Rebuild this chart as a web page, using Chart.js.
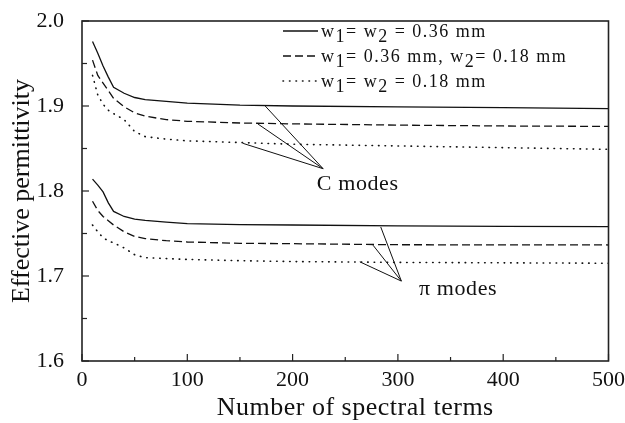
<!DOCTYPE html>
<html>
<head>
<meta charset="utf-8">
<script src="https://cdn.jsdelivr.net/npm/chart.js@4"></script>
<style>
  html, body { margin: 0; padding: 0; background: #fff; }
  #wrap { width: 625px; height: 423px; position: relative; }
</style>
</head>
<body>
<div id="wrap"><canvas id="c"></canvas></div>
<script>
// ---- data ----
const terms = [10, 15, 20, 25, 30, 40, 50, 60, 80, 100, 150, 200, 300, 400, 500];

const cSolid  = [1.976, 1.962, 1.947, 1.934, 1.922, 1.915, 1.910, 1.9075, 1.9055, 1.9035, 1.901, 1.900, 1.899, 1.898, 1.897];
const cDashed = [1.954, 1.936, 1.927, 1.918, 1.909, 1.899, 1.892, 1.888, 1.884, 1.882, 1.880, 1.879, 1.8775, 1.8765, 1.876];
const cDotted = [1.936, 1.913, 1.902, 1.895, 1.891, 1.884, 1.870, 1.864, 1.861, 1.859, 1.857, 1.855, 1.853, 1.851, 1.849];

const piSolid  = [1.814, 1.807, 1.799, 1.786, 1.776, 1.770, 1.767, 1.7655, 1.7635, 1.7615, 1.7605, 1.760, 1.759, 1.7585, 1.758];
const piDashed = [1.788, 1.777, 1.770, 1.765, 1.760, 1.752, 1.7465, 1.744, 1.7415, 1.740, 1.7385, 1.738, 1.7368, 1.7366, 1.7365];
const piDotted = [1.760, 1.752, 1.745, 1.7413, 1.739, 1.733, 1.725, 1.7215, 1.7205, 1.7195, 1.718, 1.717, 1.716, 1.7155, 1.715];

const legendLabels = ['w_1= w_2 = 0.36 mm', 'w_1= 0.36 mm, w_2= 0.18 mm', 'w_1= w_2 = 0.18 mm'];

const xTicks = [0, 100, 200, 300, 400, 500];
const yTicks = [1.6, 1.7, 1.8, 1.9, 2.0];
const xTitle = 'Number of spectral terms';
const yTitle = 'Effective permittivity';

// annotation pointers (data units): apex and line start points
const cModesLabel = 'C modes';
const cModesApex = [229, 1.8262];
const cModesStarts = [[173.6, 1.9005], [167, 1.8789], [153, 1.856]];
const cModesText = [223, 1.8007];

const piModesLabel = 'π modes';
const piModesApex = [303.3, 1.694];
const piModesStarts = [[283.7, 1.7577], [276.4, 1.7362], [263.8, 1.7167]];
const piModesText = [320, 1.6776];

// ---- styles ----
const FONT = "'Liberation Serif', 'Times New Roman', serif";
const INK = '#111';
const styleSolid = { borderDash: [], borderCapStyle: 'butt', borderWidth: 1.3 };
const styleDashed = { borderDash: [8, 4], borderCapStyle: 'butt', borderWidth: 1.3 };
const styleDotted = { borderDash: [0.5, 6], borderCapStyle: 'round', borderWidth: 1.6 };

function pts(ys) { return terms.map((x, i) => ({ x: x, y: ys[i] })); }
function ds(ys, st) {
  return Object.assign({
    data: pts(ys), borderColor: INK, backgroundColor: INK,
    pointRadius: 0, tension: 0, fill: false
  }, st);
}

const datasets = [
  ds(cSolid, styleSolid), ds(cDashed, styleDashed), ds(cDotted, styleDotted),
  ds(piSolid, styleSolid), ds(piDashed, styleDashed), ds(piDotted, styleDotted)
];

function isMultiple(v, step) {
  const r = v / step;
  return Math.abs(r - Math.round(r)) < 1e-6;
}

// plugin: frame, inward tick marks, annotations, legend, x title
const decor = {
  id: 'decor',
  afterDatasetsDraw(chart) {
    const ctx = chart.ctx;
    const a = chart.chartArea;
    const xs = chart.scales.x, ys = chart.scales.y;
    ctx.save();
    // pointers
    ctx.strokeStyle = INK;
    ctx.lineWidth = 1;
    ctx.setLineDash([]);
    [[cModesApex, cModesStarts], [piModesApex, piModesStarts]].forEach(([ap, starts]) => {
      const ax = xs.getPixelForValue(ap[0]), ay = ys.getPixelForValue(ap[1]);
      starts.forEach(s => {
        ctx.beginPath();
        ctx.moveTo(xs.getPixelForValue(s[0]), ys.getPixelForValue(s[1]));
        ctx.lineTo(ax, ay);
        ctx.stroke();
      });
    });
    // annotation text
    ctx.fillStyle = INK;
    ctx.font = '22px ' + FONT;
    ctx.letterSpacing = '0.6px';
    ctx.textBaseline = 'alphabetic';
    ctx.textAlign = 'left';
    ctx.fillText(cModesLabel, xs.getPixelForValue(cModesText[0]), ys.getPixelForValue(cModesText[1]));
    ctx.fillText(piModesLabel, xs.getPixelForValue(piModesText[0]), ys.getPixelForValue(piModesText[1]));

    // legend
    ctx.font = '18px ' + FONT;
    ctx.letterSpacing = '1.5px';
    const lx0 = a.left + 201, lx1 = a.left + 236, tx = a.left + 239;
    legendLabels.forEach((lab, i) => {
      const d = datasets[i];
      const yy = a.top + 10 + i * 25;
      ctx.save();
      ctx.lineWidth = d.borderWidth;
      ctx.lineCap = d.borderCapStyle;
      ctx.setLineDash(d.borderDash);
      ctx.strokeStyle = INK;
      ctx.beginPath();
      ctx.moveTo(lx0, yy);
      ctx.lineTo(lx1, yy);
      ctx.stroke();
      ctx.restore();
      let x = tx;
      const base = yy + 6;
      const parts = lab.split(/(_\d)/).filter(p => p.length);
      parts.forEach(p => {
        if (p[0] === '_') {
          ctx.fillText(p[1], x, base + 5);
          x += ctx.measureText(p[1]).width;
        } else {
          ctx.fillText(p, x, base);
          x += ctx.measureText(p).width;
        }
      });
    });
    ctx.restore();
  },
  afterDraw(chart) {
    const ctx = chart.ctx;
    const a = chart.chartArea;
    const xs = chart.scales.x, ys = chart.scales.y;
    ctx.save();
    ctx.strokeStyle = '#222';
    ctx.lineWidth = 1.6;
    ctx.setLineDash([]);
    ctx.strokeRect(a.left, a.top, a.right - a.left, a.bottom - a.top);
    ctx.lineWidth = 1.2;
    xs.ticks.forEach(t => {
      const px = xs.getPixelForValue(t.value);
      const len = isMultiple(t.value, 100) ? 7 : 4;
      ctx.beginPath();
      ctx.moveTo(px, a.bottom);
      ctx.lineTo(px, a.bottom - len);
      ctx.stroke();
    });
    ys.ticks.forEach(t => {
      const py = ys.getPixelForValue(t.value);
      const len = isMultiple(t.value, 0.1) ? 7 : 5;
      ctx.beginPath();
      ctx.moveTo(a.left, py);
      ctx.lineTo(a.left + len, py);
      ctx.stroke();
    });
    // x axis title
    ctx.fillStyle = INK;
    ctx.font = '26px ' + FONT;
    ctx.letterSpacing = '0.5px';
    ctx.textAlign = 'center';
    ctx.textBaseline = 'alphabetic';
    ctx.fillText(xTitle, (a.left + a.right) / 2 + 10, a.bottom + 54);
    ctx.restore();
  }
};

new Chart(document.getElementById('c'), {
  type: 'line',
  data: { datasets: datasets },
  plugins: [decor],
  options: {
    responsive: true,
    maintainAspectRatio: false,
    animation: false,
    layout: { padding: { top: 20, right: 16, left: 0, bottom: 0 } },
    plugins: { legend: { display: false }, tooltip: { enabled: false } },
    scales: {
      x: {
        type: 'linear',
        min: xTicks[0], max: xTicks[xTicks.length - 1],
        grid: { display: false },
        border: { display: false },
        ticks: {
          stepSize: 50, autoSkip: false, maxRotation: 0, padding: 0,
          color: INK, font: { family: FONT, size: 22, lineHeight: 1.0 },
          callback: v => (xTicks.some(t => Math.abs(t - v) < 1e-6) ? String(v) : '')
        },
        title: { display: false },
        afterFit: s => { s.height = 62; }
      },
      y: {
        type: 'linear',
        min: yTicks[0], max: yTicks[yTicks.length - 1],
        grid: { display: false },
        border: { display: false },
        ticks: {
          stepSize: 0.05, autoSkip: false, padding: 10,
          color: INK, font: { family: FONT, size: 22, lineHeight: 1.0 },
          callback: v => {
            const m = yTicks.find(t => Math.abs(t - v) < 1e-6);
            return m !== undefined ? m.toFixed(1) : '';
          }
        },
        title: {
          display: true, text: yTitle, color: INK,
          font: { family: FONT, size: 26, lineHeight: 1.0 },
          padding: { top: 9, bottom: 0 }
        },
        afterFit: s => { s.width = 82; }
      }
    }
  }
});
</script>
</body>
</html>
